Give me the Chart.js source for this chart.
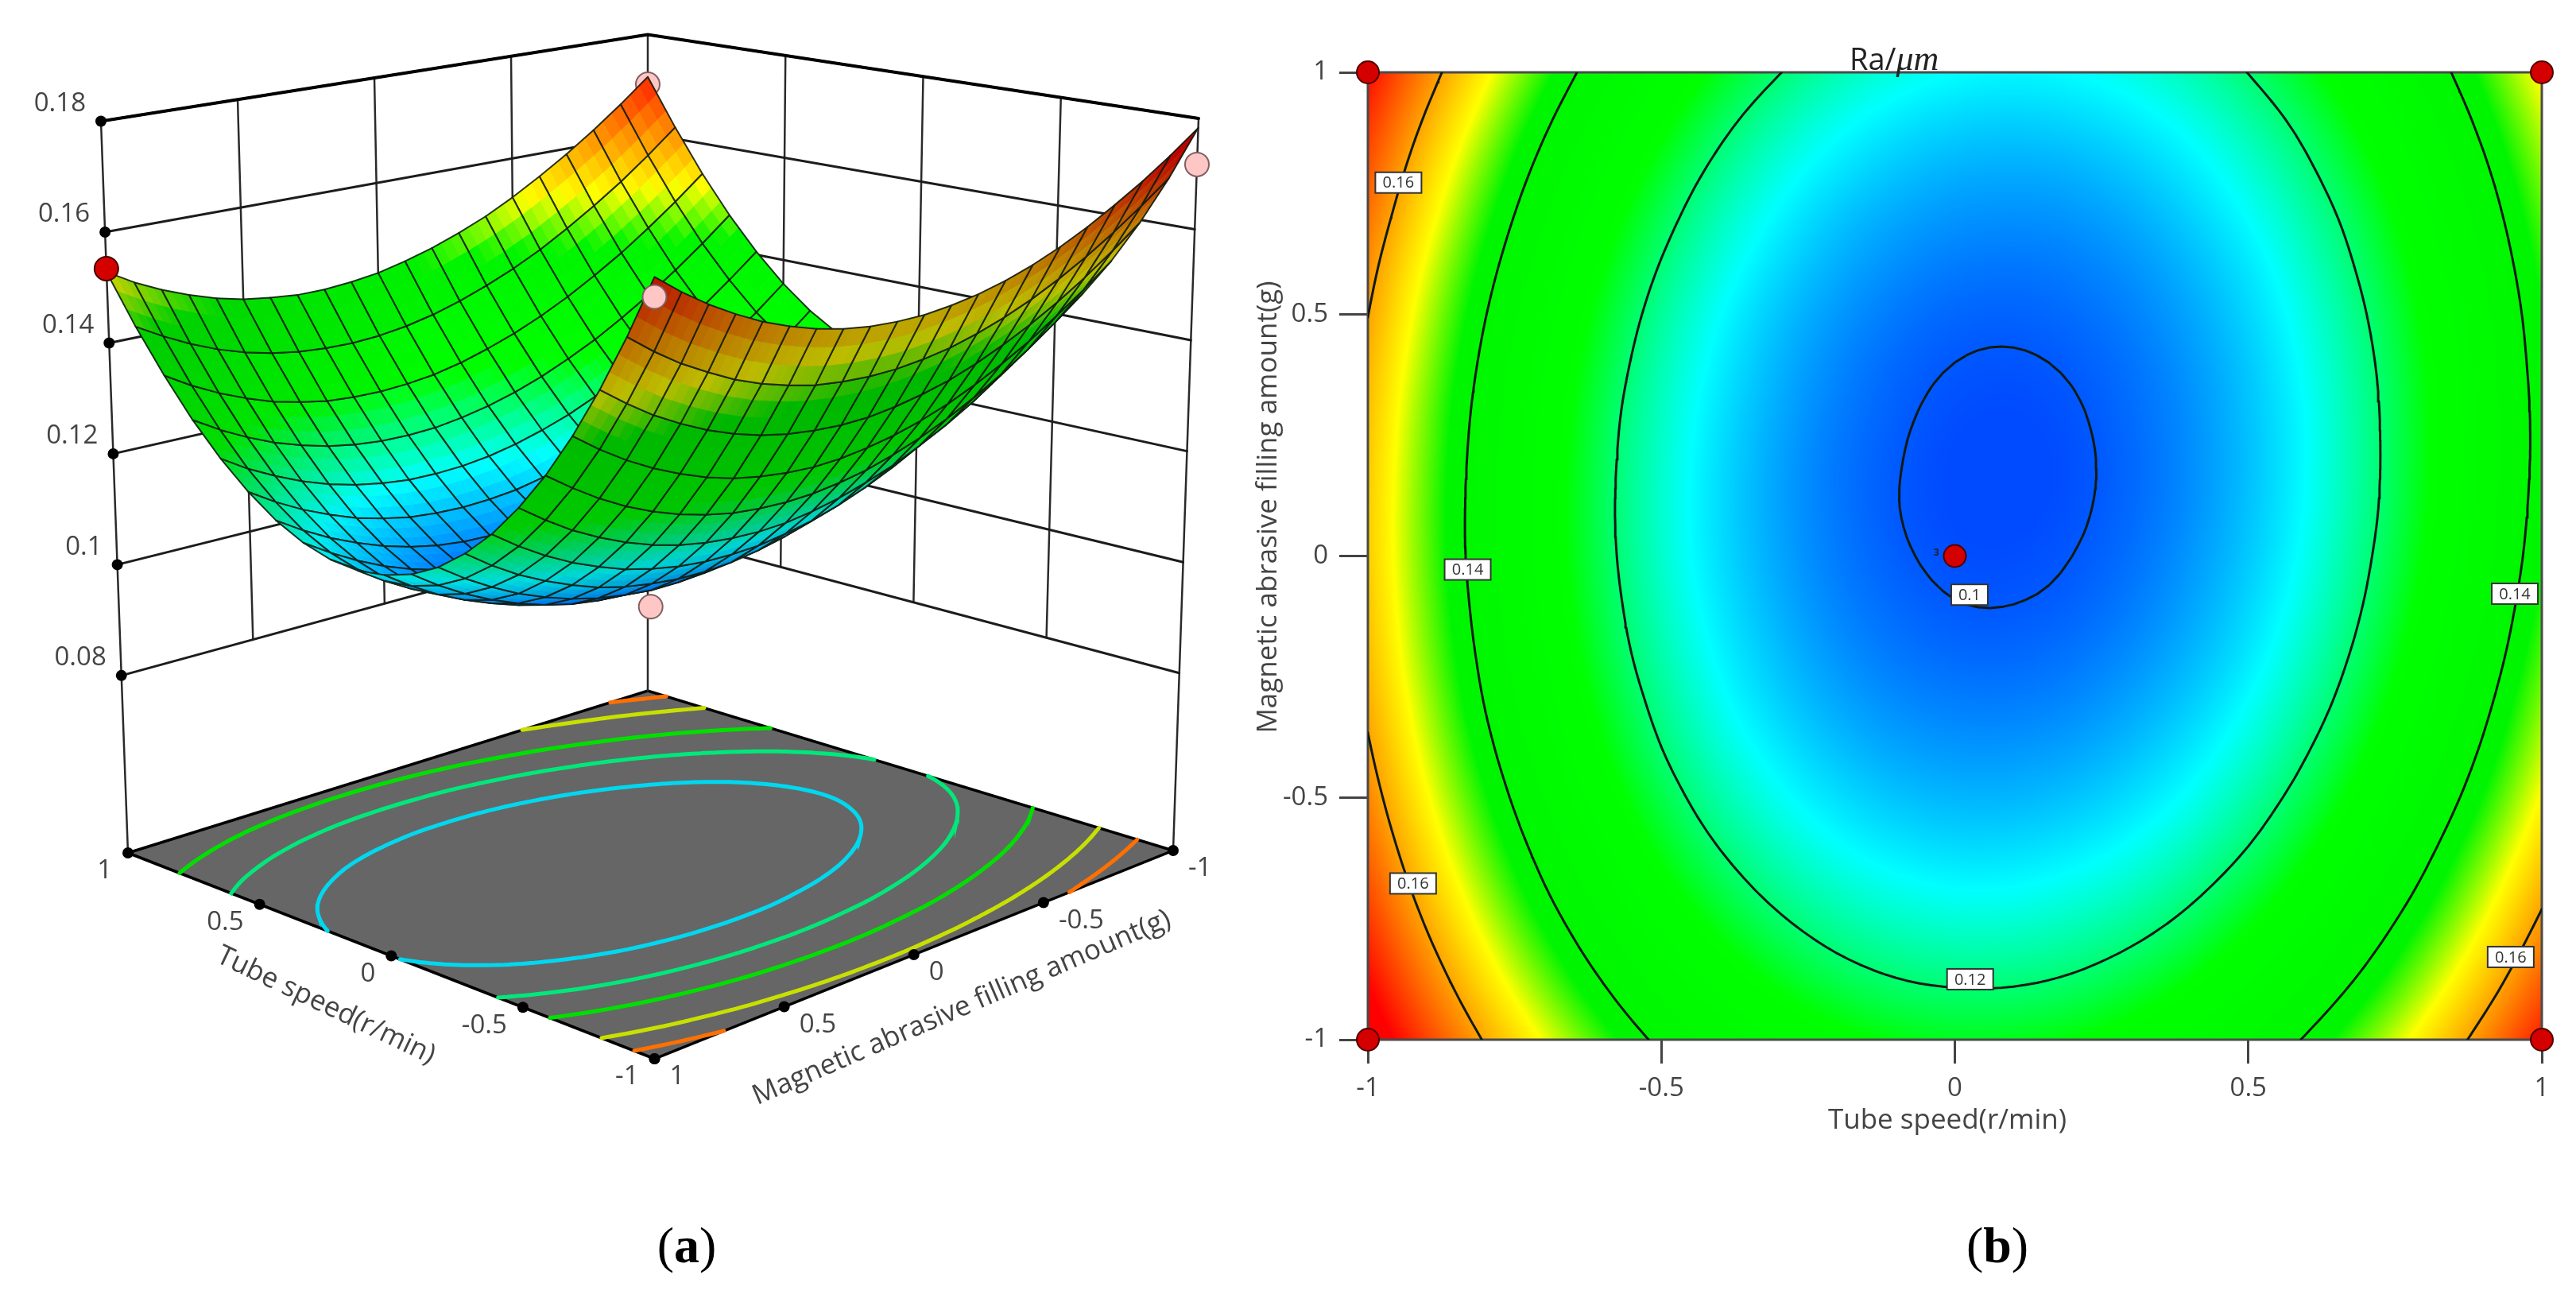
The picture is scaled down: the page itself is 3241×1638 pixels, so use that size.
<!DOCTYPE html>
<html>
<head>
<meta charset="utf-8">
<title>Ra response surface</title>
<script src="https://cdn.jsdelivr.net/npm/chart.js@4"></script>
<style>
  body { margin: 0; background: #fff; width: 3241px; height: 1638px; position: relative; overflow: hidden; }
  canvas { position: absolute; top: 0; }
  #surfaceChart { left: 0; }
  #contourChart { left: 1560px; }
  .caption { position: absolute; top: 1530px; font: 64px "Liberation Serif", serif; color: #000; width: 200px; text-align: center; }
  #raTitle { position: absolute; left: 2327px; top: 48px; font: 38px "Open Sans", sans-serif; color: #222; line-height: 44px; white-space: nowrap; }
  #raTitle i { font: italic 44px "Liberation Serif", serif; }
</style>
</head>
<body>
<canvas id="surfaceChart" width="1560" height="1638"></canvas>
<canvas id="contourChart" width="1681" height="1638"></canvas>
<div id="raTitle">Ra/<i>μm</i></div>
<div class="caption" style="left:764px">(<b>a</b>)</div>
<div class="caption" style="left:2413px">(<b>b</b>)</div>
<script>
// axes
const tubeSpeed = [-1, -0.9, -0.8, -0.7, -0.6, -0.5, -0.4, -0.3, -0.2, -0.1, 0, 0.1, 0.2, 0.3, 0.4, 0.5, 0.6, 0.7, 0.8, 0.9, 1];
const fillingAmount = [-1, -0.9, -0.8, -0.7, -0.6, -0.5, -0.4, -0.3, -0.2, -0.1, 0, 0.1, 0.2, 0.3, 0.4, 0.5, 0.6, 0.7, 0.8, 0.9, 1];
const axisTicks = [-1, -0.5, 0, 0.5, 1];
const raTicks = [0.08, 0.1, 0.12, 0.14, 0.16, 0.18];
const xTitle = 'Tube speed(r/min)';
const yTitle = 'Magnetic abrasive filling amount(g)';

// Ra, one row per filling amount (-1 first), one column per tube speed
const raRows = [
  [.1783,.1684,.1595,.1516,.1447,.1388,.1339,.1301,.1272,.1254,.1245,.1247,.1258,.1280,.1312,.1354,.1406,.1468,.1540,.1623,.1715],
  [.1744,.1645,.1555,.1476,.1407,.1347,.1298,.1259,.1230,.1211,.1203,.1204,.1215,.1237,.1268,.1310,.1362,.1423,.1495,.1577,.1669],
  [.1709,.1609,.1519,.1440,.1370,.1311,.1261,.1222,.1192,.1173,.1164,.1165,.1176,.1197,.1228,.1270,.1321,.1382,.1454,.1535,.1627],
  [.1678,.1577,.1487,.1407,.1337,.1277,.1228,.1188,.1158,.1139,.1129,.1130,.1141,.1161,.1192,.1233,.1284,.1345,.1416,.1498,.1589],
  [.1650,.1549,.1459,.1379,.1308,.1248,.1198,.1158,.1128,.1108,.1098,.1099,.1109,.1129,.1160,.1200,.1251,.1312,.1383,.1464,.1555],
  [.1626,.1525,.1435,.1354,.1283,.1223,.1172,.1132,.1102,.1081,.1071,.1071,.1081,.1101,.1131,.1172,.1222,.1282,.1353,.1433,.1524],
  [.1606,.1505,.1414,.1333,.1262,.1201,.1150,.1110,.1079,.1058,.1048,.1048,.1057,.1077,.1107,.1147,.1197,.1257,.1327,.1407,.1497],
  [.1590,.1489,.1397,.1316,.1245,.1184,.1132,.1091,.1060,.1039,.1029,.1028,.1037,.1057,.1086,.1126,.1175,.1235,.1305,.1385,.1475],
  [.1578,.1476,.1385,.1303,.1231,.1170,.1118,.1077,.1045,.1024,.1013,.1012,.1021,.1040,.1069,.1108,.1158,.1217,.1287,.1366,.1456],
  [.1570,.1468,.1376,.1294,.1222,.1160,.1108,.1066,.1034,.1013,.1001,.1000,.1008,.1027,.1056,.1095,.1144,.1203,.1272,.1351,.1441],
  [.1565,.1463,.1370,.1288,.1216,.1153,.1101,.1059,.1027,.1005,.0993,.0992,.1000,.1018,.1047,.1085,.1134,.1193,.1261,.1340,.1429],
  [.1565,.1462,.1369,.1286,.1214,.1151,.1099,.1056,.1024,.1001,.0989,.0987,.0995,.1013,.1041,.1080,.1128,.1186,.1255,.1333,.1422],
  [.1568,.1465,.1372,.1289,.1216,.1153,.1100,.1057,.1024,.1002,.0989,.0987,.0994,.1012,.1040,.1078,.1126,.1184,.1252,.1330,.1418],
  [.1575,.1471,.1378,.1295,.1221,.1158,.1105,.1062,.1029,.1006,.0993,.0990,.0997,.1015,.1042,.1080,.1127,.1185,.1253,.1331,.1418],
  [.1586,.1482,.1388,.1304,.1231,.1167,.1114,.1070,.1037,.1013,.1000,.0997,.1004,.1021,.1048,.1085,.1133,.1190,.1257,.1335,.1423],
  [.1601,.1496,.1402,.1318,.1244,.1180,.1126,.1082,.1049,.1025,.1011,.1008,.1015,.1031,.1058,.1095,.1142,.1199,.1266,.1343,.1430],
  [.1619,.1514,.1420,.1336,.1261,.1197,.1143,.1099,.1065,.1041,.1027,.1023,.1029,.1045,.1072,.1108,.1155,.1212,.1278,.1355,.1442],
  [.1642,.1537,.1442,.1357,.1282,.1218,.1163,.1119,.1084,.1060,.1046,.1042,.1047,.1063,.1090,.1126,.1172,.1228,.1295,.1371,.1458],
  [.1668,.1562,.1467,.1382,.1307,.1242,.1187,.1142,.1108,.1083,.1068,.1064,.1069,.1085,.1111,.1147,.1193,.1249,.1315,.1391,.1477],
  [.1698,.1592,.1497,.1411,.1336,.1271,.1215,.1170,.1135,.1110,.1095,.1090,.1096,.1111,.1136,.1172,.1217,.1273,.1339,.1415,.1500],
  [.1732,.1626,.1530,.1444,.1368,.1303,.1247,.1202,.1166,.1141,.1126,.1120,.1125,.1140,.1165,.1201,.1246,.1301,.1367,.1442,.1528]
];

// design points
const designTube = [1, 1, -1, -1, 0];
const designFilling = [1, -1, -1, 1, 0];
const designRa = [0.1534, 0.170, 0.1717, 0.170, 0.094];

// contour levels and label spots
const floorLevels = [0.113, 0.125, 0.137, 0.1529, 0.165];
const floorColors = ['#00d8f0', '#00e87a', '#00e000', '#c8e000', '#ff7000'];
const planLevels = [0.1, 0.12, 0.14, 0.16];
const labelText = ['0.16', '0.14', '0.16', '0.1', '0.12', '0.14', '0.16'];
const labelTube = [-0.948, -0.830, -0.923, 0.025, 0.026, 0.954, 0.947];
const labelFilling = [0.772, -0.028, -0.677, -0.080, -0.875, -0.078, -0.829];

const fontFamily = '"Open Sans", sans-serif';
const inkColor = '#444';
const floorZ = 0.048;
const topZ = 0.18;

// colour ramp used by both plots
const rampStops = [
  [0.099, [0, 75, 255]], [0.1125, [0, 255, 255]], [0.126, [0, 255, 0]], [0.143, [0, 245, 0]],
  [0.152, [255, 255, 0]], [0.163, [255, 128, 0]], [0.174, [255, 0, 0]]
];

function rampColor(v) {
  if (v <= rampStops[0][0]) return rampStops[0][1];
  for (let i = 1; i < rampStops.length; i++) {
    if (v <= rampStops[i][0]) {
      const a = rampStops[i - 1], b = rampStops[i];
      const t = (v - a[0]) / (b[0] - a[0]);
      return [0, 1, 2].map(k => a[1][k] + (b[1][k] - a[1][k]) * t);
    }
  }
  return rampStops[rampStops.length - 1][1];
}

function cssColor(c, f) {
  return `rgb(${c[0] * f | 0},${c[1] * f | 0},${c[2] * f | 0})`;
}

// smooth resampling of the read values, only so that curves and shading are not faceted
function cubic(a, b, c, d, t) {
  return b + 0.5 * t * (c - a + t * (2 * a - 5 * b + 4 * c - d + t * (3 * (b - c) + d - a)));
}
function refine(values, steps) {
  const at = i => i < 0 ? 2 * values[0] - values[1] : i >= values.length ? 2 * values[values.length - 1] - values[values.length - 2] : values[i];
  const out = [];
  for (let i = 0; i < values.length - 1; i++) {
    for (let s = 0; s < steps; s++) out.push(cubic(at(i - 1), at(i), at(i + 1), at(i + 2), s / steps));
  }
  out.push(values[values.length - 1]);
  return out;
}
const fineSteps = 5;
const fineTube = refine(tubeSpeed, fineSteps);
const fineFilling = refine(fillingAmount, fineSteps);
const fineAcross = raRows.map(row => refine(row, fineSteps));
const fineRows = (() => {
  const cols = fineTube.map((_, c) => refine(fineAcross.map(row => row[c]), fineSteps));
  return fineFilling.map((_, r) => cols.map(col => col[r]));
})();

// line pieces of one contour level, in tube / filling units
function contourPieces(level) {
  const out = [];
  for (let r = 0; r < fineRows.length - 1; r++) {
    for (let c = 0; c < fineTube.length - 1; c++) {
      const corners = [[c, r], [c + 1, r], [c + 1, r + 1], [c, r + 1]];
      const hits = [];
      corners.forEach((p, i) => {
        const q = corners[(i + 1) % 4];
        const a = fineRows[p[1]][p[0]], b = fineRows[q[1]][q[0]];
        if ((a < level) !== (b < level)) {
          const t = (level - a) / (b - a);
          hits.push({
            x: fineTube[p[0]] + (fineTube[q[0]] - fineTube[p[0]]) * t,
            y: fineFilling[p[1]] + (fineFilling[q[1]] - fineFilling[p[1]]) * t
          });
        }
      });
      for (let h = 0; h + 1 < hits.length; h += 2) {
        out.push(hits[h], hits[h + 1], { x: NaN, y: NaN });
      }
    }
  }
  return out;
}

// --- view of the 3D box: ticks are evenly spaced along every edge, so floor and top rim are
// bilinear maps of their corners and z runs straight between them
// corners are (1,1), (1,-1), (-1,-1), (-1,1)
const floorView = [[161, 1073], [815, 869], [1476, 1070], [823.5, 1332]];
const topView = [[127, 152.5], [815, 43.5], [1508, 149], [823.5, 295]];

function mapPoint(view, x, y) {
  const s = (1 + x) / 2, t = (1 + y) / 2;
  const w = [s * t, s * (1 - t), (1 - s) * (1 - t), (1 - s) * t];
  return {
    x: w.reduce((sum, v, i) => sum + v * view[i][0], 0),
    y: w.reduce((sum, v, i) => sum + v * view[i][1], 0)
  };
}

function project(x, y, z) {
  const a = mapPoint(floorView, x, y), b = mapPoint(topView, x, y), t = (z - floorZ) / (topZ - floorZ);
  // w grows with distance from the viewer, used to sort the surface cells
  return { x: a.x + (b.x - a.x) * t, y: a.y + (b.y - a.y) * t, w: (x - y) / 2.83 - 0.29 * (z - 0.1) / 0.05 };
}

function pieces3d(list) {
  const out = [];
  list.forEach(s => {
    s.forEach(p => out.push(project(p[0], p[1], p[2])));
    out.push({ x: NaN, y: NaN });
  });
  return out;
}

function wallPath() {
  return raTicks.map(z => [[1, 1, z], [1, -1, z], [-1, -1, z]]);
}

function wallVerticals() {
  const list = [[[1, 1, topZ], [1, 1, floorZ]], [[1, -1, topZ], [1, -1, floorZ]], [[-1, -1, topZ], [-1, -1, floorZ]]];
  [-0.5, 0, 0.5].forEach(t => {
    list.push([[1, t, topZ], [1, t, 0.08]]);
    list.push([[t, -1, topZ], [t, -1, 0.08]]);
  });
  return list;
}

function lineSet(data, color, width, order, extra) {
  return Object.assign({
    data: data, showLine: true, borderColor: color, borderWidth: width, pointRadius: 0,
    tension: 0, spanGaps: false, fill: false, order: order, borderCapStyle: 'round'
  }, extra || {});
}

function ballSet(idx, order, fillColor, edge) {
  return {
    data: idx.map(i => project(designTube[i], designFilling[i], designRa[i])),
    showLine: false, pointRadius: 15, pointBackgroundColor: fillColor, pointBorderColor: edge,
    pointBorderWidth: 2, order: order, clip: false
  };
}

const surfacePoints = [];
raRows.forEach((row, r) => row.forEach((ra, c) => surfacePoints.push(project(tubeSpeed[c], fillingAmount[r], ra))));

const floorCorners = [[1, 1], [1, -1], [-1, -1], [-1, 1], [1, 1]].map(p => project(p[0], p[1], floorZ));

const datasetsA = [
  lineSet(floorCorners, '#000', 3.5, 9, { fill: 'shape', backgroundColor: '#666666' }),
  lineSet(pieces3d(wallPath()), '#1c1c1c', 3, 8),
  lineSet(pieces3d(wallVerticals()), '#2a2a2a', 2.5, 8),
  lineSet(pieces3d([[[1, 1, topZ], [1, -1, topZ], [-1, -1, topZ]]]), '#000', 4, 7),
  {
    data: raTicks.map(z => project(1, 1, z)).concat(
      axisTicks.map(t => project(t, 1, floorZ)),
      axisTicks.map(t => project(-1, t, floorZ))),
    showLine: false, pointRadius: 7, pointBackgroundColor: '#000', pointBorderWidth: 0, order: 5
  }
];
floorLevels.forEach((level, i) => {
  const pts = contourPieces(level).map(p => isNaN(p.x) ? p : project(p.x, p.y, floorZ));
  datasetsA.push(lineSet(pts, floorColors[i], 5, 6));
});
datasetsA.push(ballSet([1, 2, 4], 4, '#ffc6c6', '#806060'));
datasetsA.push({ data: surfacePoints, isSurface: true, showLine: false, pointRadius: 0, order: 3, clip: false });
datasetsA.push(ballSet([3], 1, '#ffc6c6', '#806060'));
datasetsA.push(ballSet([0], 1, '#d40000', '#400000'));

// paints the surface cell by cell, far cells first
const surfacePainter = {
  id: 'surfacePainter',
  beforeDatasetDraw(chart, args) {
    if (!chart.data.datasets[args.index].isSurface) return;
    const nodes = args.meta.data, ctx = chart.ctx, nx = tubeSpeed.length, ny = raRows.length;
    const cells = [];
    for (let r = 0; r < ny - 1; r++) {
      for (let c = 0; c < nx - 1; c++) {
        const w = surfacePoints[r * nx + c].w + surfacePoints[(r + 1) * nx + c + 1].w +
          surfacePoints[r * nx + c + 1].w + surfacePoints[(r + 1) * nx + c].w;
        cells.push({ r, c, w });
      }
    }
    cells.sort((a, b) => b.w - a.w);
    const sub = 3;
    ctx.save();
    ctx.lineJoin = 'round';
    cells.forEach(({ r, c }) => {
      const p00 = nodes[r * nx + c], p10 = nodes[r * nx + c + 1], p01 = nodes[(r + 1) * nx + c], p11 = nodes[(r + 1) * nx + c + 1];
      const z00 = raRows[r][c], z10 = raRows[r][c + 1], z01 = raRows[r + 1][c], z11 = raRows[r + 1][c + 1];
      // screen-space winding tells top side from underside
      const ex = p10.x + p11.x - p00.x - p01.x, ey = p10.y + p11.y - p00.y - p01.y;
      const fx = p01.x + p11.x - p00.x - p10.x, fy = p01.y + p11.y - p00.y - p10.y;
      const under = ex * fy - ey * fx > 0;
      const sx = ((z10 + z11 - z00 - z01) / 2) / 0.1 * 20, sy = ((z01 + z11 - z00 - z10) / 2) / 0.1 * 20;
      const len = Math.hypot(sx, sy, 1);
      let shade;
      if (under) {
        shade = 0.68 + 0.32 * Math.pow(1 / len, 2);
      } else {
        const dot = (-sy / len) * 0.6 + (1 / len) * 0.8;
        shade = Math.min(1, 0.68 + 0.65 * dot);
      }
      const at = (s, t) => ({
        x: (1 - t) * ((1 - s) * p00.x + s * p10.x) + t * ((1 - s) * p01.x + s * p11.x),
        y: (1 - t) * ((1 - s) * p00.y + s * p10.y) + t * ((1 - s) * p01.y + s * p11.y)
      });
      for (let i = 0; i < sub; i++) {
        for (let j = 0; j < sub; j++) {
          const s = (i + 0.5) / sub, t = (j + 0.5) / sub;
          const z = (1 - t) * ((1 - s) * z00 + s * z10) + t * ((1 - s) * z01 + s * z11);
          const col = cssColor(rampColor(z), shade);
          const a = at(i / sub, j / sub), b = at((i + 1) / sub, j / sub), d = at((i + 1) / sub, (j + 1) / sub), e = at(i / sub, (j + 1) / sub);
          ctx.beginPath();
          ctx.moveTo(a.x, a.y); ctx.lineTo(b.x, b.y); ctx.lineTo(d.x, d.y); ctx.lineTo(e.x, e.y);
          ctx.closePath();
          ctx.fillStyle = col;
          ctx.strokeStyle = col;
          ctx.lineWidth = 1;
          ctx.fill();
          ctx.stroke();
        }
      }
      ctx.beginPath();
      ctx.moveTo(p00.x, p00.y); ctx.lineTo(p10.x, p10.y); ctx.lineTo(p11.x, p11.y); ctx.lineTo(p01.x, p01.y);
      ctx.closePath();
      ctx.strokeStyle = 'rgba(15,25,15,0.88)';
      ctx.lineWidth = 2;
      ctx.stroke();
    });
    ctx.restore();
  }
};

function slantedText(ctx, text, x, y, degrees) {
  ctx.save();
  ctx.translate(x, y);
  ctx.rotate(degrees * Math.PI / 180);
  ctx.fillText(text, 0, 0);
  ctx.restore();
}

// tick labels and slanted axis titles of the 3D view
const surfaceText = {
  id: 'surfaceText',
  afterDraw(chart) {
    const ctx = chart.ctx, sx = chart.scales.x, sy = chart.scales.y;
    const put = (p, dx, dy, text, align) => {
      ctx.textAlign = align;
      ctx.fillText(text, sx.getPixelForValue(p.x) + dx, sy.getPixelForValue(p.y) + dy);
    };
    ctx.save();
    ctx.font = '33px ' + fontFamily;
    ctx.fillStyle = inkColor;
    ctx.textBaseline = 'middle';
    raTicks.forEach(z => put(project(1, 1, z), -19, -22, String(z), 'right'));
    axisTicks.forEach(t => {
      put(project(t, 1, floorZ), -20, 23, String(t), 'right');
      put(project(-1, t, floorZ), 19, 23, String(t), 'left');
    });
    ctx.font = '35px ' + fontFamily;
    ctx.textAlign = 'center';
    slantedText(ctx, xTitle, 410, 1265, 25.5);
    slantedText(ctx, yTitle, 1210, 1268, -23.4);
    ctx.restore();
  }
};

new Chart(document.getElementById('surfaceChart'), {
  type: 'scatter',
  data: { datasets: datasetsA },
  options: {
    responsive: false,
    animation: false,
    events: [],
    layout: { padding: 0, autoPadding: false },
    plugins: { legend: { display: false }, tooltip: { enabled: false } },
    scales: {
      x: { type: 'linear', min: 0, max: 1560, display: false },
      y: { type: 'linear', min: 0, max: 1638, reverse: true, display: false }
    }
  },
  plugins: [surfacePainter, surfaceText]
});

// --- plan view
function raAt(x, y) {
  const fx = (x - fineTube[0]) / (fineTube[1] - fineTube[0]), fy = (y - fineFilling[0]) / (fineFilling[1] - fineFilling[0]);
  const c = Math.max(0, Math.min(fineTube.length - 2, Math.floor(fx)));
  const r = Math.max(0, Math.min(fineFilling.length - 2, Math.floor(fy)));
  const s = fx - c, t = fy - r;
  return (1 - t) * ((1 - s) * fineRows[r][c] + s * fineRows[r][c + 1]) + t * ((1 - s) * fineRows[r + 1][c] + s * fineRows[r + 1][c + 1]);
}

const heatmap = {
  id: 'heatmap',
  beforeDatasetsDraw(chart) {
    const area = chart.chartArea, ctx = chart.ctx, sx = chart.scales.x, sy = chart.scales.y;
    const w = Math.round(area.right - area.left), h = Math.round(area.bottom - area.top);
    const img = ctx.createImageData(w, h);
    for (let j = 0; j < h; j++) {
      const fy = sy.getValueForPixel(area.top + j + 0.5);
      for (let i = 0; i < w; i++) {
        const col = rampColor(raAt(sx.getValueForPixel(area.left + i + 0.5), fy));
        const o = (j * w + i) * 4;
        img.data[o] = col[0]; img.data[o + 1] = col[1]; img.data[o + 2] = col[2]; img.data[o + 3] = 255;
      }
    }
    ctx.putImageData(img, Math.round(area.left), Math.round(area.top));
    ctx.save();
    ctx.strokeStyle = '#4a4a4a';
    ctx.lineWidth = 3;
    ctx.strokeRect(area.left, area.top, area.right - area.left, area.bottom - area.top);
    ctx.restore();
  },
  afterDatasetsDraw(chart) {
    const ctx = chart.ctx, sx = chart.scales.x, sy = chart.scales.y;
    ctx.save();
    ctx.font = '20px ' + fontFamily;
    ctx.textAlign = 'center';
    ctx.textBaseline = 'middle';
    labelText.forEach((text, i) => {
      const x = sx.getPixelForValue(labelTube[i]), y = sy.getPixelForValue(labelFilling[i]);
      const w = text.length > 3 ? 58 : 46;
      ctx.fillStyle = '#fff';
      ctx.strokeStyle = '#333';
      ctx.lineWidth = 2;
      ctx.fillRect(x - w / 2, y - 13, w, 26);
      ctx.strokeRect(x - w / 2, y - 13, w, 26);
      ctx.fillStyle = '#333';
      ctx.fillText(text, x, y + 1);
    });
    ctx.font = 'bold 12px ' + fontFamily;
    ctx.fillStyle = '#222';
    ctx.textAlign = 'right';
    ctx.fillText('3', sx.getPixelForValue(0) - 20, sy.getPixelForValue(0) - 4);
    // axis titles: both sit off the middle of their axis
    ctx.font = '35px ' + fontFamily;
    ctx.fillStyle = inkColor;
    ctx.textAlign = 'center';
    slantedText(ctx, xTitle, 2450 - 1560, 1410, 0);
    slantedText(ctx, yTitle, 1596 - 1560, 638, -90);
    ctx.restore();
  }
};

const datasetsB = planLevels.map(level => lineSet(contourPieces(level), '#101a14', 3, 2));
datasetsB.push({
  data: designTube.map((t, i) => ({ x: t, y: designFilling[i] })),
  showLine: false, pointRadius: 14, pointBackgroundColor: '#d40000', pointBorderColor: '#500000',
  pointBorderWidth: 2, order: 1, clip: false
});

function axisOptions(tickLength, padding, fixedSize, horizontal) {
  return {
    type: 'linear', min: -1, max: 1,
    afterBuildTicks: axis => { axis.ticks = axisTicks.map(v => ({ value: v })); },
    afterFit: axis => { if (horizontal) axis.height = fixedSize; else axis.width = fixedSize; },
    border: { display: false },
    grid: { drawOnChartArea: false, drawTicks: true, tickLength: tickLength, color: inkColor, lineWidth: 3 },
    ticks: {
      padding: padding, color: inkColor, maxRotation: 0, autoSkip: false,
      font: { family: fontFamily, size: 33 },
      callback: v => String(v)
    }
  };
}

new Chart(document.getElementById('contourChart'), {
  type: 'scatter',
  data: { datasets: datasetsB },
  options: {
    responsive: false,
    animation: false,
    events: [],
    layout: { padding: { left: 17, right: 43, top: 91, bottom: 208 }, autoPadding: false },
    plugins: { legend: { display: false }, tooltip: { enabled: false } },
    scales: {
      x: axisOptions(30, 12, 122, true),
      y: axisOptions(36, 14, 144, false)
    }
  },
  plugins: [heatmap]
});
</script>
</body>
</html>
